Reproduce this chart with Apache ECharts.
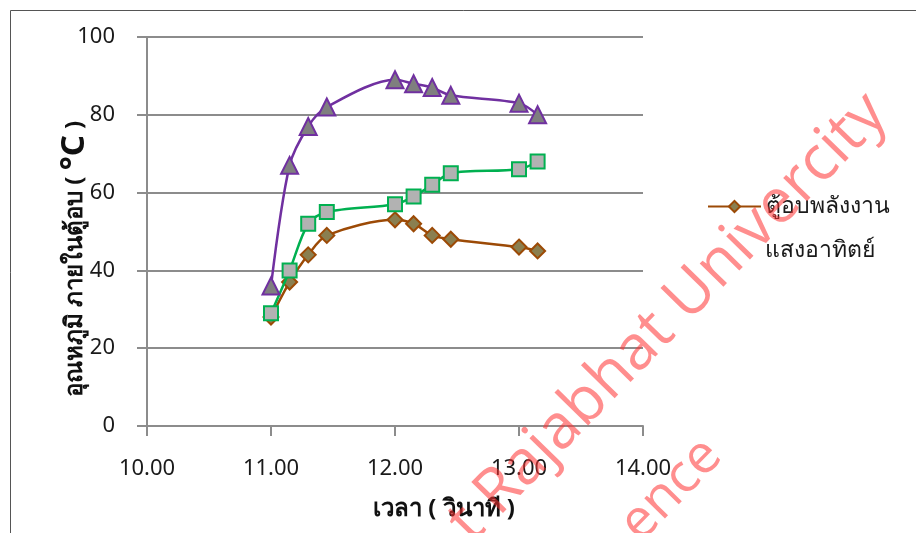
<!DOCTYPE html>
<html>
<head>
<meta charset="utf-8">
<script src="https://cdn.jsdelivr.net/npm/echarts@6/dist/echarts.min.js"></script>
<style>
  html, body { margin: 0; padding: 0; background: #fff; }
  #chart { width: 916px; height: 533px; }
</style>
</head>
<body>
<div id="chart"></div>
<script>
// Time of measurement (hour.minute written as a decimal)
const times = [11.00, 11.15, 11.30, 11.45, 12.00, 12.15, 12.30, 12.45, 13.00, 13.15];

// Temperature inside the dryers (°C)
const ovenTemp   = [28, 37, 44, 49, 53, 52, 49, 48, 46, 45];   // solar dryer
const greenTemp  = [29, 40, 52, 55, 57, 59, 62, 65, 66, 68];
const purpleTemp = [36, 67, 77, 82, 89, 88, 87, 85, 83, 80];

const seriesNames = ['ตู้อบพลังงาน แสงอาทิตย์', 'ชุดที่ 2', 'ชุดที่ 3'];
const legendLine1 = 'ตู้อบพลังงาน';
const legendLine2 = 'แสงอาทิตย์';
const xTitle = 'เวลา ( วินาที )';
const yTitleMain = 'อุณหภูมิ ภายในตู้อบ ( ';
const yTitleUnit = '°C';
const yTitleEnd = ' )';
const watermark1 = 't Rajabhat Univercity';
const watermark2 = 'ence';

const FONT = '"Noto Sans", "Noto Sans CJK SC", sans-serif';
const MARK_COLOR = 'rgba(255,50,50,0.55)';

function pairs(ys) { return times.map((t, i) => [t, ys[i]]); }

const chart = echarts.init(document.getElementById('chart'), null, { renderer: 'canvas' });

chart.setOption({
  animation: false,
  backgroundColor: '#ffffff',
  grid: { left: 147, right: 273, top: 37, bottom: 107, containLabel: false },
  xAxis: {
    type: 'value', min: 10, max: 14, interval: 1,
    axisLine: { show: true, lineStyle: { color: '#8c8c8c', width: 2 } },
    axisTick: { show: true, length: 10, lineStyle: { color: '#8c8c8c', width: 2 } },
    axisLabel: { margin: 32, fontSize: 22, color: '#1a1a1a', fontFamily: FONT,
                 formatter: v => v.toFixed(2) },
    splitLine: { show: false }
  },
  yAxis: {
    type: 'value', min: 0, max: 100, interval: 20,
    axisLine: { show: true, lineStyle: { color: '#8c8c8c', width: 2 } },
    axisTick: { show: true, inside: false, length: 10, lineStyle: { color: '#8c8c8c', width: 2 } },
    axisLabel: { margin: 32, fontSize: 22, color: '#1a1a1a', fontFamily: FONT },
    splitLine: { show: true, lineStyle: { color: '#8c8c8c', width: 2 } }
  },
  legend: {
    left: 702, top: 190, orient: 'vertical',
    data: [seriesNames[0]],
    itemWidth: 53, itemHeight: 14, itemGap: 10,
    formatter: () => legendLine1,
    textStyle: { fontSize: 23, color: '#1a1a1a', fontFamily: FONT }
  },
  series: [
    {
      name: seriesNames[0], type: 'line', data: pairs(ovenTemp), smooth: 0.3,
      symbol: 'diamond', symbolSize: 15,
      lineStyle: { color: '#9c4a06', width: 2.5 },
      itemStyle: { color: '#8a7f50', borderColor: '#9c4a06', borderWidth: 2 },
      z: 2
    },
    {
      name: seriesNames[1], type: 'line', data: pairs(greenTemp), smooth: 0.3,
      symbol: 'rect', symbolSize: 14,
      lineStyle: { color: '#00b050', width: 2.5 },
      itemStyle: { color: '#b2b2b2', borderColor: '#00b050', borderWidth: 2 },
      z: 3
    },
    {
      name: seriesNames[2], type: 'line', data: pairs(purpleTemp), smooth: 0.3,
      symbol: 'triangle', symbolSize: 17,
      lineStyle: { color: '#7030a0', width: 2.5 },
      itemStyle: { color: '#7f7f7f', borderColor: '#7030a0', borderWidth: 2 },
      z: 4
    }
  ],
  graphic: [
    // outer frame (top and left edges visible)
    { type: 'rect', shape: { x: 10.5, y: 10.5, width: 1200, height: 1200 },
      style: { fill: 'none', stroke: '#555', lineWidth: 1 }, silent: true },
    // second line of the legend label
    { type: 'text', x: 765, y: 250,
      style: { text: legendLine2, fontSize: 23, fill: '#1a1a1a', fontFamily: FONT,
               verticalAlign: 'middle', align: 'left' } },
    // x axis title
    { type: 'text', x: 444, y: 509,
      style: { text: xTitle, fontSize: 24, fontWeight: 'bold', fill: '#111', fontFamily: FONT,
               align: 'center', verticalAlign: 'middle' } },
    // y axis title (rotated)
    { type: 'text', x: 75, y: 259, rotation: Math.PI / 2,
      style: {
        text: '{a|' + yTitleMain + '}{b|' + yTitleUnit + '}{a|' + yTitleEnd + '}',
        align: 'center', verticalAlign: 'middle',
        rich: {
          a: { fontSize: 24, fontWeight: 'bold', fill: '#111', fontFamily: FONT },
          b: { fontSize: 33, fontWeight: 'bold', fill: '#111', fontFamily: FONT }
        }
      } },
    // watermark
    { type: 'text', x: 877, y: 104, rotation: Math.PI * 0.254, z: 100,
      style: { text: watermark1, fontSize: 62, fill: MARK_COLOR,
               fontFamily: '"Open Sans", sans-serif', align: 'right', verticalAlign: 'middle' } },
    { type: 'text', x: 713, y: 447, rotation: Math.PI * 0.254, z: 100,
      style: { text: watermark2, fontSize: 54, fill: MARK_COLOR,
               fontFamily: '"Open Sans", sans-serif', align: 'right', verticalAlign: 'middle' } }
  ]
});
</script>
</body>
</html>
